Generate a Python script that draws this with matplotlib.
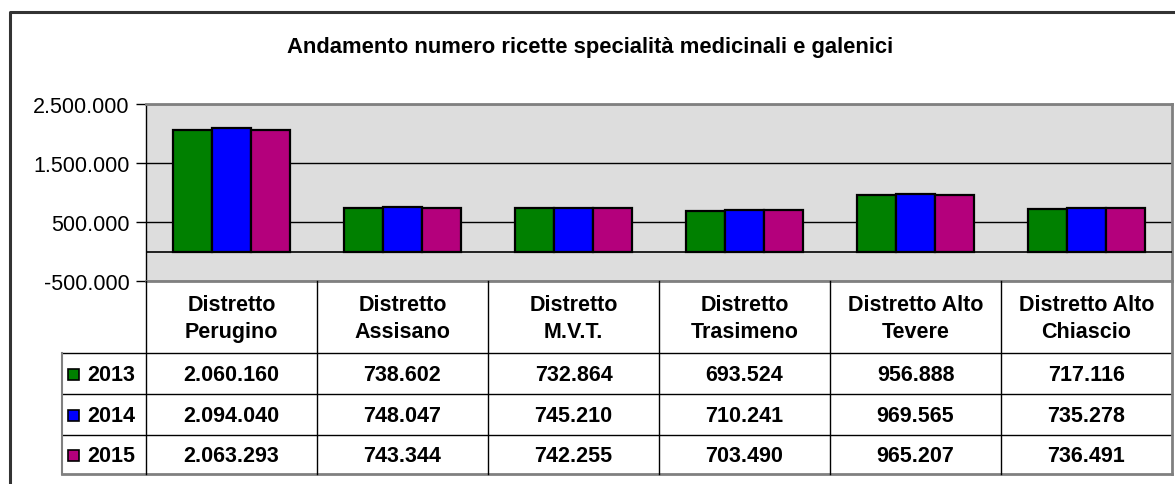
import numpy as np
import matplotlib
matplotlib.use("Agg")
import matplotlib.pyplot as plt
from matplotlib.patches import Rectangle

# data
districts = ["Distretto\nPerugino", "Distretto\nAssisano", "Distretto\nM.V.T.",
             "Distretto\nTrasimeno", "Distretto Alto\nTevere", "Distretto Alto\nChiascio"]
years = ["2013", "2014", "2015"]
v2013 = [2060160, 738602, 732864, 693524, 956888, 717116]
v2014 = [2094040, 748047, 745210, 710241, 969565, 735278]
v2015 = [2063293, 743344, 742255, 703490, 965207, 736491]
colors = ["#008000", "#0000FF", "#B4007C"]

yticks = [-500000, 500000, 1500000, 2500000]

W, H = 1175, 485
plt.rcParams['font.family'] = ['Liberation Sans', 'DejaVu Sans']


def it_fmt(v):
    return f"{v:,}".replace(",", ".")


# pixel layout
px_left, px_right = 146, 1172
px_top, px_bot = 105, 282
row_h = [282, 354, 395, 436, 475]
leg_left = 62

fig = plt.figure(figsize=(W / 100, H / 100), dpi=100)
ax = fig.add_axes([px_left / W, 1 - px_bot / H, (px_right - px_left) / W, (px_bot - px_top) / H])
ax.set_facecolor("#DDDDDD")

series = [v2013, v2014, v2015]
x = np.arange(len(districts))
bw = 0.228
for k, vals in enumerate(series):
    ax.bar(x + (k - 1) * bw, vals, width=bw, color=colors[k], edgecolor="black",
           linewidth=1.6, zorder=3)

ax.set_xlim(-0.5, len(districts) - 0.5)
ax.set_ylim(-500000, 2500000)
ax.set_yticks(yticks, [it_fmt(t) for t in yticks])
ax.tick_params(axis='y', labelsize=15.5, length=7, width=1, color="black", pad=5)
ax.tick_params(axis='x', bottom=False, labelbottom=False)
for t in yticks:
    ax.axhline(t, color="black", lw=1, zorder=1)
ax.axhline(0, color="black", lw=1.2, zorder=4)
for side in ["top", "right", "bottom"]:
    ax.spines[side].set_color("#808080")
    ax.spines[side].set_linewidth(2)
ax.spines["left"].set_color("black")
ax.spines["left"].set_linewidth(1)

# overlay for frame, title and data table
ov = fig.add_axes([0, 0, 1, 1])
ov.set_xlim(0, W)
ov.set_ylim(H, 0)
ov.axis("off")

ov.plot([10, 10, W + 5], [H + 5, 13, 13], color="#333333", lw=2.2)
ov.text(590, 47, "Andamento numero ricette specialità medicinali e galenici",
        ha="center", va="center", fontsize=15.8, fontweight="bold")

colw = (px_right - px_left) / len(districts)
# horizontal lines
for y in row_h[1:4]:
    ov.plot([leg_left, px_right], [y, y], color="black", lw=1)
ov.plot([leg_left, px_right], [row_h[4], row_h[4]], color="#808080", lw=2)
# vertical lines
ov.plot([leg_left, leg_left], [row_h[1], row_h[4]], color="#808080", lw=1.5)
for i in range(len(districts)):
    xl = px_left + i * colw
    ov.plot([xl, xl], [row_h[0], row_h[4]], color="black", lw=1)
ov.plot([px_right, px_right], [row_h[0], row_h[4]], color="#808080", lw=2)

for i, name in enumerate(districts):
    cx = px_left + (i + 0.5) * colw
    ov.text(cx, (row_h[0] + row_h[1]) / 2 + 1, name, ha="center", va="center",
            fontsize=15.5, fontweight="bold", linespacing=1.4)
    for k, vals in enumerate(series):
        ov.text(cx, (row_h[k + 1] + row_h[k + 2]) / 2 + 1, it_fmt(vals[i]),
                ha="center", va="center", fontsize=15.5, fontweight="bold")

for k, yr in enumerate(years):
    cy = (row_h[k + 1] + row_h[k + 2]) / 2
    ov.add_patch(Rectangle((68, cy - 5), 11, 11, facecolor=colors[k], edgecolor="black", lw=1.2))
    ov.text(87, cy + 1, yr, ha="left", va="center", fontsize=15.5, fontweight="bold")

fig.savefig("out.png", dpi=100)
